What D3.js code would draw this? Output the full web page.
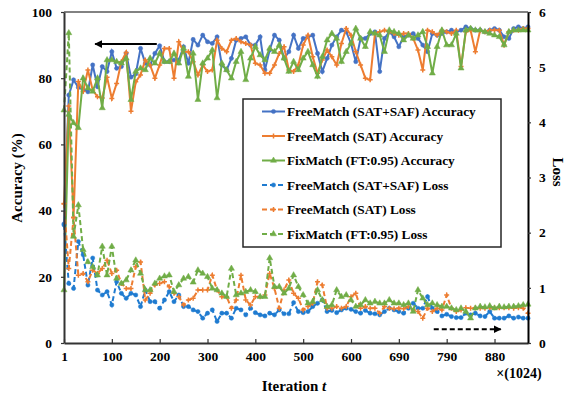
<!DOCTYPE html>
<html>
<head>
<meta charset="utf-8">
<script src="https://cdn.jsdelivr.net/npm/d3@7"></script>
<style>
  body { margin: 0; background: #fff; }
</style>
</head>
<body>
<div id="chart"></div>
<script>
WIDTH = 565;
HEIGHT = 394;
var FONT = "'Liberation Serif', 'Times New Roman', 'DejaVu Serif', serif";

// x tick labels (every 10th point)
var iterLabels = ["1", "100", "200", "300", "400", "500", "600", "690", "790", "880"];

// accuracy (%), left axis
var accSatSaf = [36, 74.9, 79.5, 77.2, 76.6, 75.9, 84, 77.4, 83.5, 82, 88, 83, 83.5, 87.5, 80.3, 81.3, 89, 84.5, 84, 87.5,
  89.8, 85, 85, 85.5, 85.5, 89.5, 84.5, 91.7, 90, 93, 91, 90.5, 92.5, 84, 82.5, 86, 91.5, 92, 92.5, 90,
  90, 92.5, 82.5, 88.5, 93, 91.5, 86, 88, 93, 89, 92, 92.5, 93, 87.5, 82, 86, 90, 92.5, 94.5, 94,
  90.5, 85, 92, 92, 93.5, 94, 82, 92, 94, 92.5, 89.5, 92.5, 93, 93.5, 92, 90, 88, 93.5, 93, 93.5,
  94, 94.5, 94, 94.5, 95.5, 95, 94.5, 94.5, 94, 94.5, 95, 94.5, 92.5, 92, 95, 95.5, 95, 95.5];
var accSat = [42, 71.6, 38, 79, 76, 82.5, 76.4, 74.4, 74, 80.3, 73.9, 78.4, 85, 87.8, 70, 78.9, 81, 85.5, 84, 80,
  84, 89, 89, 80, 91, 88, 88, 85, 81, 84, 82, 82.5, 91.5, 89, 88, 91.5, 92, 91, 90.5, 90,
  84.5, 84, 81.5, 81.5, 84, 87.5, 89.5, 82.5, 82, 84, 90, 93, 86.5, 81.5, 85.5, 88.5, 86.5, 84, 90.5, 95,
  93, 88, 84, 80, 79.5, 93.5, 94, 94.5, 94, 93.5, 93, 93.5, 93.5, 92, 88.5, 82.5, 94.5, 94, 93, 94.5,
  94, 93.5, 94.5, 83.5, 94, 94.5, 88, 94.5, 94, 94.5, 94.5, 94.5, 90, 94, 94.5, 94.5, 95, 95];
var accFix = [16, 69, 66.5, 65, 80, 77, 76, 80, 71, 85.5, 85.5, 85, 84.5, 86, 73.5, 82, 83, 82.5, 86, 84.5,
  87.5, 85, 85, 87.5, 84.5, 89, 80.5, 87.5, 73.5, 84.5, 86, 88.5, 74, 84.5, 82.5, 80, 85, 88, 79.5, 86,
  89.5, 87, 85.5, 89, 88, 90, 86, 82, 85, 82.5, 86, 88, 84, 80.5, 86.5, 91.5, 93.5, 92, 85, 88,
  90.5, 95, 92, 89.5, 94, 93.5, 93, 88, 94.5, 94, 93.5, 91.5, 93, 92, 93, 94, 89.5, 81.5, 89.5, 94.5,
  90, 90, 93.5, 83, 94.5, 95, 94.5, 94.5, 94, 93.5, 93, 92.5, 90, 94, 94.5, 94.5, 94.5, 94.5];

// loss, right axis
var lossSatSaf = [2.14, 1.08, 0.99, 1.84, 1.6, 1.05, 1.54, 0.96, 0.87, 0.93, 0.69, 1.11, 0.9, 0.81, 0.9, 0.87, 0.66, 0.96, 0.75, 0.75,
  0.63, 0.78, 0.93, 0.75, 0.87, 0.66, 0.66, 0.6, 0.57, 0.45, 0.54, 0.6, 0.39, 0.54, 0.54, 0.45, 0.63, 0.6, 0.51, 0.63,
  0.55, 0.51, 0.49, 0.54, 0.51, 0.6, 0.53, 0.53, 0.73, 0.57, 0.55, 0.57, 0.66, 0.72, 0.78, 0.57, 0.59, 0.55, 0.6, 0.63,
  0.61, 0.57, 0.54, 0.59, 0.54, 0.53, 0.51, 0.57, 0.63, 0.6, 0.57, 0.54, 0.63, 0.72, 0.63, 0.63, 0.84, 0.63, 0.57, 0.49,
  0.52, 0.48, 0.46, 0.46, 0.54, 0.51, 0.54, 0.49, 0.48, 0.57, 0.45, 0.45, 0.45, 0.49, 0.45, 0.47, 0.45, 0.45];
var lossSat = [2.53, 1.35, 2.27, 1.23, 1.26, 1.11, 1.32, 1.26, 1.35, 1.5, 1.26, 1.32, 1.08, 0.99, 0.99, 1.38, 1.47, 0.78, 0.9, 1.05,
  1.08, 1.11, 1.02, 0.9, 0.84, 0.69, 0.78, 0.81, 0.96, 0.96, 0.96, 1.23, 0.96, 0.84, 0.84, 0.63, 0.78, 1.23, 0.78, 0.69,
  0.84, 0.84, 0.87, 1.26, 0.99, 0.63, 0.96, 1.14, 0.9, 0.81, 0.6, 0.66, 0.72, 1.11, 1.05, 0.63, 0.63, 0.66, 0.63, 0.66,
  0.84, 0.9, 0.63, 0.66, 0.63, 0.63, 0.54, 0.66, 0.63, 0.62, 0.63, 0.62, 0.66, 0.6, 0.57, 0.45, 0.63, 0.57, 0.63, 0.6,
  0.87, 0.63, 0.57, 0.6, 0.64, 0.63, 0.64, 0.63, 0.63, 0.64, 0.64, 0.64, 0.64, 0.64, 0.63, 0.64, 0.63, 0.54];
var lossFix = [4.22, 5.62, 1.93, 2.5, 1.69, 1.47, 1.38, 1.23, 1.75, 1.23, 1.75, 1.17, 1.08, 1.14, 1.32, 1.5, 1.26, 0.96, 0.96, 1.08,
  1.17, 1.21, 1.23, 0.93, 1.05, 1.17, 1.2, 1.1, 1.32, 1.26, 1.2, 0.99, 0.96, 0.9, 0.84, 1.35, 0.87, 0.9, 0.93, 0.96,
  0.93, 0.84, 0.84, 1.54, 1.02, 1.02, 0.9, 0.99, 1.23, 1.02, 0.87, 0.72, 0.75, 0.96, 0.78, 0.66, 0.69, 0.96, 0.84, 0.87,
  0.78, 0.66, 0.69, 0.78, 0.72, 0.75, 0.72, 0.72, 0.78, 0.72, 0.72, 0.69, 0.72, 0.57, 0.96, 0.81, 0.69, 0.72, 0.69, 0.66,
  0.66, 0.63, 0.6, 0.63, 0.57, 0.45, 0.63, 0.66, 0.65, 0.67, 0.63, 0.66, 0.65, 0.66, 0.66, 0.67, 0.69, 0.7];

var seriesNames = ["FreeMatch (SAT+SAF) Accuracy", "FreeMatch (SAT) Accuracy", "FixMatch (FT:0.95) Accuracy",
  "FreeMatch (SAT+SAF) Loss", "FreeMatch (SAT) Loss", "FixMatch (FT:0.95) Loss"];

var BLUE = "#4472C4", ORANGE = "#ED7D31", GREEN = "#70AD47", BLUE2 = "#1F7BD0";

var margin = { top: 12, right: 37, bottom: 51, left: 64 };

var svg = d3.select("#chart").append("svg")
  .attr("width", WIDTH).attr("height", HEIGHT)
  .style("font-family", FONT);

var x = d3.scaleLinear().domain([0, accSatSaf.length - 1]).range([margin.left, WIDTH - margin.right]);
var yL = d3.scaleLinear().domain([0, 100]).range([HEIGHT - margin.bottom, margin.top]);
var yR = d3.scaleLinear().domain([0, 6]).range([HEIGHT - margin.bottom, margin.top]);

var series = [
  { data: accSatSaf, y: yL, color: BLUE, dash: null, shape: "circle" },
  { data: accSat, y: yL, color: ORANGE, dash: null, shape: "plus" },
  { data: accFix, y: yL, color: GREEN, dash: null, shape: "tri" },
  { data: lossSatSaf, y: yR, color: BLUE2, dash: "5,3", shape: "circle" },
  { data: lossSat, y: yR, color: ORANGE, dash: "5,3", shape: "plus" },
  { data: lossFix, y: yR, color: GREEN, dash: "5,3", shape: "tri" }
];

// plot border (top line)
svg.append("line")
  .attr("x1", margin.left).attr("x2", WIDTH - margin.right)
  .attr("y1", margin.top).attr("y2", margin.top)
  .attr("stroke", "#595959").attr("stroke-width", 1.5);

function symbolFor(shape) {
  if (shape == "circle") return d3.symbol().type(d3.symbolCircle).size(14)();
  if (shape == "tri") return d3.symbol().type(d3.symbolTriangle).size(16)();
  return "M-2.5,0H2.5M0,-2.5V2.5";
}

var plot_g = svg.append("g");
series.forEach(function(s) {
  var line = d3.line().x((d, i) => x(i)).y(d => s.y(d));
  plot_g.append("path")
    .datum(s.data)
    .attr("d", line)
    .attr("fill", "none")
    .attr("stroke", s.color)
    .attr("stroke-width", 2)
    .attr("stroke-dasharray", s.dash);
  plot_g.append("g").selectAll("path")
    .data(s.data)
    .enter()
    .append("path")
    .attr("d", symbolFor(s.shape))
    .attr("transform", (d, i) => "translate(" + x(i) + "," + s.y(d) + ")")
    .attr("fill", s.color)
    .attr("stroke", s.color)
    .attr("stroke-width", s.shape == "plus" ? 1.5 : 0.5);
});

// axes
var xAxis = d3.axisBottom(x)
  .tickValues(d3.range(0, iterLabels.length * 10, 10))
  .tickFormat((d, i) => iterLabels[i])
  .tickSizeInner(-4).tickSizeOuter(0).tickPadding(8);
var xg = svg.append("g")
  .attr("transform", "translate(0," + (HEIGHT - margin.bottom) + ")")
  .call(xAxis);

var yLg = svg.append("g")
  .attr("transform", "translate(" + margin.left + ",0)")
  .call(d3.axisLeft(yL).tickValues([0, 20, 40, 60, 80, 100]).tickSizeInner(3).tickSizeOuter(0).tickPadding(9));

var yRg = svg.append("g")
  .attr("transform", "translate(" + (WIDTH - margin.right) + ",0)")
  .call(d3.axisRight(yR).tickValues([0, 1, 2, 3, 4, 5, 6]).tickFormat(d3.format("d"))
    .tickSizeInner(3).tickSizeOuter(0).tickPadding(8));

[xg, yLg, yRg].forEach(function(g) {
  g.attr("font-family", FONT).attr("font-size", 13.5).attr("font-weight", "bold");
  g.selectAll("text").attr("fill", "#000");
  g.select(".domain").attr("stroke", "#333").attr("stroke-width", 2);
  g.selectAll(".tick line").attr("stroke", "#333").attr("stroke-width", 1.2);
});
yRg.select(".domain").attr("stroke", "#000");

// axis titles
svg.append("text")
  .attr("transform", "translate(22," + 178 + ") rotate(-90)")
  .attr("text-anchor", "middle")
  .attr("font-weight", "bold")
  .style("font-size", "15px")
  .text("Accuracy (%)");

svg.append("text")
  .attr("transform", "translate(553," + 172 + ") rotate(90)")
  .attr("text-anchor", "middle")
  .attr("font-weight", "bold")
  .style("font-size", "15px")
  .text("Loss");

var xt = svg.append("text")
  .attr("x", 294).attr("y", 391)
  .attr("text-anchor", "middle")
  .attr("font-weight", "bold")
  .style("font-size", "15px");
xt.append("tspan").text("Iteration ");
xt.append("tspan").style("font-style", "italic").text("t");

svg.append("text")
  .attr("x", 519).attr("y", 378)
  .attr("text-anchor", "middle")
  .attr("font-weight", "bold")
  .style("font-size", "14px")
  .text("\u00d7(1024)");

// arrows
var defs = svg.append("defs");
defs.append("marker")
  .attr("id", "ah")
  .attr("viewBox", "0 0 10 10")
  .attr("refX", 9).attr("refY", 5)
  .attr("markerWidth", 8).attr("markerHeight", 8)
  .attr("markerUnits", "userSpaceOnUse")
  .attr("orient", "auto")
  .append("path")
  .attr("d", "M0,0L10,5L0,10z")
  .attr("fill", "#000");

svg.append("line")
  .attr("x1", x(19.4)).attr("x2", x(6.5))
  .attr("y1", yL(90.3)).attr("y2", yL(90.3))
  .attr("stroke", "#000").attr("stroke-width", 2)
  .attr("marker-end", "url(#ah)");

svg.append("line")
  .attr("x1", x(77.3)).attr("x2", x(91.3))
  .attr("y1", yR(0.25)).attr("y2", yR(0.25))
  .attr("stroke", "#000").attr("stroke-width", 2)
  .attr("stroke-dasharray", "5,3")
  .attr("marker-end", "url(#ah)");

// legend
var legend = svg.append("g");
legend.append("rect")
  .attr("x", 243).attr("y", 99)
  .attr("width", 258).attr("height", 148)
  .attr("fill", "#fff")
  .attr("stroke", "#262626").attr("stroke-width", 1.5);

var rowY = d3.scaleLinear().domain([0, 5]).range([111.5, 234]);
series.forEach(function(s, i) {
  var row = legend.append("g").attr("transform", "translate(0," + rowY(i) + ")");
  row.append("line")
    .attr("x1", 262).attr("x2", 285)
    .attr("stroke", s.color).attr("stroke-width", 2)
    .attr("stroke-dasharray", s.dash);
  row.append("path")
    .attr("d", symbolFor(s.shape))
    .attr("transform", "translate(273.5,0)")
    .attr("fill", s.color).attr("stroke", s.color)
    .attr("stroke-width", s.shape == "plus" ? 1.5 : 0.5);
  row.append("text")
    .attr("x", 287).attr("dy", "0.35em")
    .attr("font-weight", "bold")
    .style("font-size", "13.3px")
    .text(seriesNames[i]);
});
</script>
</body>
</html>
